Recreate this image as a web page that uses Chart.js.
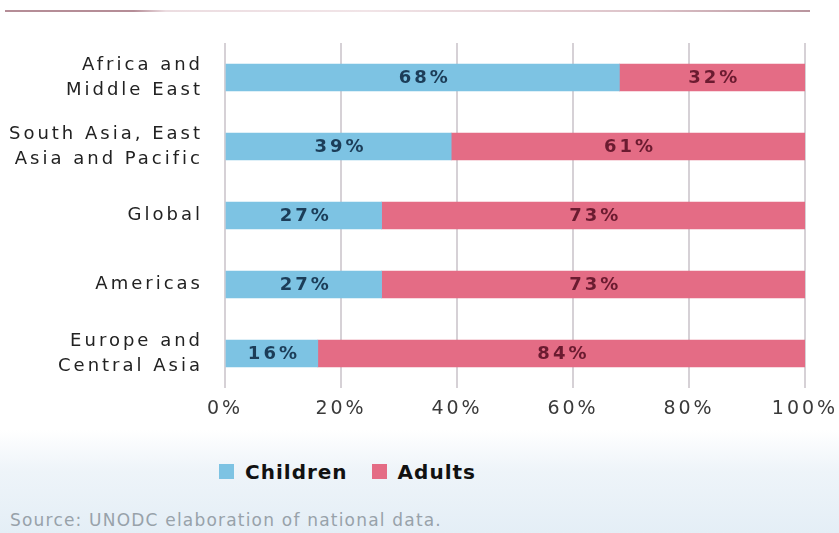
<!DOCTYPE html>
<html>
<head>
<meta charset="utf-8">
<script src="https://cdn.jsdelivr.net/npm/chart.js@4.4.0/dist/chart.umd.min.js"></script>
<style>
  html,body{margin:0;padding:0;background:#fff;}
  #wrap{position:relative;width:839px;height:533px;overflow:hidden;font-family:"DejaVu Sans",sans-serif;}
  #bg{position:absolute;left:0;top:430px;width:839px;height:103px;
      background:linear-gradient(to bottom,rgba(255,255,255,1) 0%,rgba(238,244,249,1) 40%,rgba(228,238,246,1) 100%);}
  #topline{position:absolute;left:5px;top:10px;width:805px;height:2px;
      background:linear-gradient(to right,#b58d97 0%,#b58d97 16%,#ecdde1 20%,#f1e4e7 45%,#dcc2c8 80%,#b9959e 100%);}
  #chart{position:absolute;left:0;top:0;}
  #legend{position:absolute;left:219px;top:460px;font-size:20px;font-weight:bold;color:#111;letter-spacing:1px;white-space:nowrap;}
  #legend span.box{display:inline-block;width:15px;height:15px;margin-right:11px;vertical-align:0px;}
  #legend span.item{margin-right:24px;}
  #source{position:absolute;left:10px;top:510px;font-size:17px;color:#98a2aa;letter-spacing:1.2px;white-space:nowrap;}
</style>
</head>
<body>
<div id="wrap">
  <div id="bg"></div>
  <div id="topline"></div>
  <canvas id="chart" width="839" height="440"></canvas>
  <div id="legend"></div>
  <div id="source">Source: UNODC elaboration of national data.</div>
</div>
<script>
const regions=[['Africa and','Middle East'],['South Asia, East','Asia and Pacific'],'Global','Americas',['Europe and','Central Asia']]
const children=[68,39,27,27,16]
const adults=[32,61,73,73,84]
const seriesNames=['Children','Adults']
const colors=['#7dc3e3','#e46c85']
const labelColors=['#1c3d58','#6b1b30']
const xTicks=[0,20,40,60,80,100]

// wide letter spacing like the original typeface
const spacing={
  id:'spacing',
  afterInit(chart){chart.ctx.letterSpacing='3px'},
  beforeLayout(chart){chart.ctx.letterSpacing='3px'},
  beforeDraw(chart){chart.ctx.letterSpacing='3px'}
}

const valueLabels={
  id:'valueLabels',
  afterDatasetsDraw(chart){
    const ctx=chart.ctx
    ctx.save()
    ctx.letterSpacing='3px'
    ctx.font='bold 18px "DejaVu Sans", sans-serif'
    ctx.textAlign='center'
    ctx.textBaseline='middle'
    chart.data.datasets.forEach((ds,i)=>{
      chart.getDatasetMeta(i).data.forEach((bar,j)=>{
        const left=Math.min(bar.x,bar.base)
        const right=Math.max(bar.x,bar.base)
        ctx.fillStyle=labelColors[i]
        ctx.fillText(ds.data[j]+'%',(left+right)/2+2,bar.y+1)
      })
    })
    ctx.restore()
  }
}

new Chart(document.getElementById('chart'),{
  type:'bar',
  data:{
    labels:regions,
    datasets:[
      {label:seriesNames[0],data:children,backgroundColor:colors[0],barThickness:27},
      {label:seriesNames[1],data:adults,backgroundColor:colors[1],barThickness:27}
    ]
  },
  options:{
    indexAxis:'y',
    responsive:false,
    animation:false,
    layout:{padding:{top:43,right:34,left:0,bottom:0}},
    plugins:{legend:{display:false},tooltip:{enabled:false}},
    scales:{
      x:{
        stacked:true,min:0,max:100,
        afterBuildTicks(scale){scale.ticks=xTicks.map(v=>({value:v}))},
        afterFit(scale){scale.height=52;scale.paddingLeft=0;scale.paddingRight=0},
        grid:{color:'#d6d1d6',lineWidth:2,drawTicks:false},
        border:{display:false},
        ticks:{padding:10,color:'#3a3a3a',font:{family:'"DejaVu Sans", sans-serif',size:19},callback:v=>v+'%'}
      },
      y:{
        stacked:true,
        afterFit(scale){scale.width=225;scale.paddingTop=0;scale.paddingBottom=0},
        grid:{display:false,drawTicks:false},
        border:{display:false},
        ticks:{padding:22,color:'#222',font:{family:'"DejaVu Sans", sans-serif',size:18,lineHeight:1.4}}
      }
    }
  },
  plugins:[spacing,valueLabels]
})

document.getElementById('legend').innerHTML=seriesNames.map((n,i)=>
  `<span class="item"><span class="box" style="background:${colors[i]}"></span>${n}</span>`).join('')
</script>
</body>
</html>
